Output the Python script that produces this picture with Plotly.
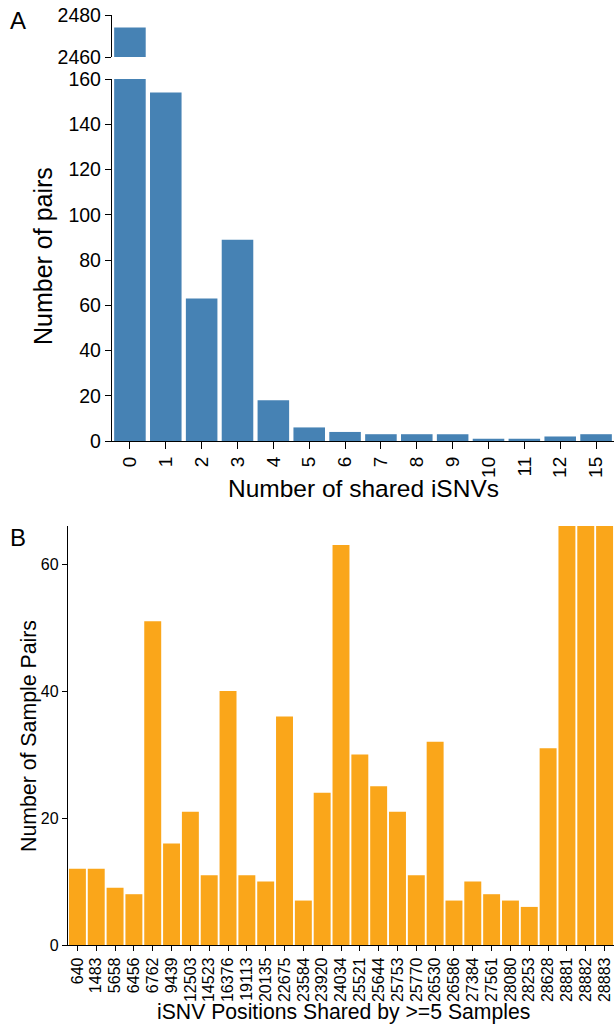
import plotly.graph_objects as go

W, H = 614, 1025

# Panel A data
shared_cats = ["0", "1", "2", "3", "4", "5", "6", "7", "8", "9", "10", "11", "12", "15"]
pair_counts = [2474, 154, 63, 89, 18, 6, 4, 3, 3, 3, 1, 1, 2, 3]

# Panel B data
positions = ["640", "1483", "5658", "6456", "6762", "9439", "12503", "14523", "16376",
             "19113", "20135", "22675", "23584", "23920", "24034", "25521", "25644",
             "25753", "25770", "26530", "26586", "27384", "27561", "28080", "28253",
             "28628", "28881", "28882", "28883"]
sample_pairs = [12, 12, 9, 8, 51, 16, 21, 11, 40, 11, 10, 36, 7, 24, 63, 30, 25,
                21, 11, 32, 7, 10, 8, 7, 6, 31, 70, 70, 70]

BLUE = "#4682b4"
ORANGE = "#faa61a"
FONT = "Liberation Sans"


def px_x(p):
    return p / W


def px_y(p):
    return 1 - p / H


fig = go.Figure()

# A bottom
fig.add_trace(go.Bar(x=shared_cats, y=pair_counts, marker_color=BLUE, width=0.88,
                     marker_line_width=0, xaxis="x", yaxis="y", showlegend=False))
# A top (broken axis)
fig.add_trace(go.Bar(x=shared_cats, y=pair_counts, marker_color=BLUE, width=0.88,
                     marker_line_width=0, xaxis="x2", yaxis="y2", showlegend=False))
# B
fig.add_trace(go.Bar(x=positions, y=sample_pairs, marker_color=ORANGE, width=0.9,
                     marker_line_width=0, xaxis="x3", yaxis="y3", showlegend=False))

axis_common = dict(showgrid=False, zeroline=False, showline=True, linecolor="black",
                   linewidth=1.3, ticks="outside", tickcolor="black", tickwidth=1.3,
                   automargin=False)

fig.update_layout(
    width=W, height=H,
    margin=dict(l=0, r=0, t=0, b=0, autoexpand=False),
    plot_bgcolor="white", paper_bgcolor="white",
    font=dict(family=FONT, color="black"),
    bargap=0.1,
    xaxis=dict(**axis_common, domain=[px_x(112), 1], anchor="y", type="category",
               range=[-0.5, 13.5], tickangle=-90, ticklen=7, tickmode="array",
               tickvals=shared_cats, tickfont=dict(size=19)),
    yaxis=dict(**axis_common, domain=[px_y(441), px_y(79)], anchor="x",
               range=[0, 160], dtick=20, ticklen=6, tickfont=dict(size=19.5)),
    xaxis2=dict(domain=[px_x(112), 1], anchor="y2", type="category",
                range=[-0.5, 13.5], visible=False, matches="x", automargin=False),
    yaxis2=dict(**axis_common, domain=[px_y(57), px_y(15)], anchor="x2",
                range=[2460, 2480], tickvals=[2460, 2480], ticklen=6,
                tickfont=dict(size=19.5)),
    xaxis3=dict(**axis_common, domain=[px_x(68), 1], anchor="y3", type="category",
                range=[-0.5, 28.5], tickangle=-90, ticklen=5, tickmode="array",
                tickvals=positions, tickfont=dict(size=16)),
    yaxis3=dict(**axis_common, domain=[px_y(945), px_y(526)], anchor="x3",
                range=[0, 66], tickvals=[0, 20, 40, 60], ticklen=5,
                tickfont=dict(size=16)),
    annotations=[
        dict(text="A", x=px_x(18), y=px_y(20), xref="paper", yref="paper",
             showarrow=False, font=dict(size=24), xanchor="center", yanchor="middle"),
        dict(text="B", x=px_x(18), y=px_y(537), xref="paper", yref="paper",
             showarrow=False, font=dict(size=24), xanchor="center", yanchor="middle"),
        dict(text="Number of pairs", x=px_x(43), y=px_y(256), xref="paper", yref="paper",
             showarrow=False, textangle=-90, font=dict(size=25),
             xanchor="center", yanchor="middle"),
        dict(text="Number of shared iSNVs", x=px_x(363), y=px_y(488), xref="paper",
             yref="paper", showarrow=False, font=dict(size=24.5),
             xanchor="center", yanchor="middle"),
        dict(text="Number of Sample Pairs", x=px_x(29), y=px_y(736), xref="paper",
             yref="paper", showarrow=False, textangle=-90, font=dict(size=21.3),
             xanchor="center", yanchor="middle"),
        dict(text="iSNV Positions Shared by >=5 Samples", x=px_x(343), y=px_y(1012),
             xref="paper", yref="paper", showarrow=False, font=dict(size=21.2),
             xanchor="center", yanchor="middle"),
    ],
)

fig.write_html("out.html", post_script="document.body.style.margin='0px';",
               config={"displayModeBar": False})
